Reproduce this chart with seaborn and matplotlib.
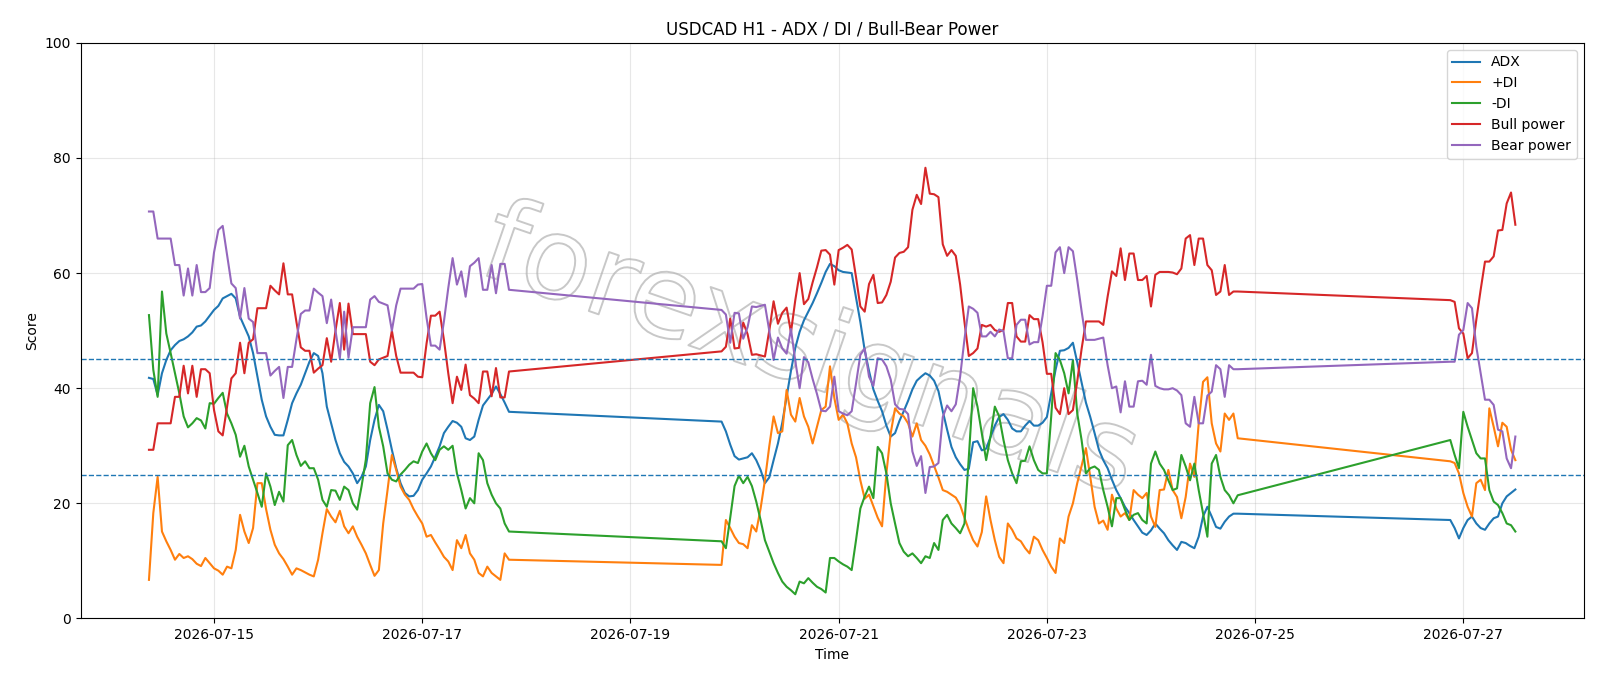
import matplotlib
matplotlib.use("Agg")
import pandas as pd
import seaborn as sns
import matplotlib.pyplot as plt
import matplotlib.dates as mdates
import matplotlib.patheffects as pe

# hourly bars, three trading sessions (weekend gaps are bridged by the line)
sessions = [
    ("2026-07-14 09:00", "2026-07-17 20:00"),
    ("2026-07-19 21:00", "2026-07-24 20:00"),
    ("2026-07-26 21:00", "2026-07-27 12:00"),
]

adx = [
    # session 1
    41.8, 41.6, 38.8, 42.6, 44.9, 46.6, 47.5, 48.2, 48.5, 49.0,
    49.7, 50.7, 50.9, 51.6, 52.6, 53.6, 54.3, 55.6, 56.0, 56.4,
    55.6, 52.4, 50.7, 49.0, 46.1, 42.0, 38.0, 35.1, 33.3, 31.9,
    31.8, 31.8, 34.5, 37.4, 39.1, 40.6, 42.6, 44.6, 46.1, 45.6,
    42.6, 36.8, 33.9, 31.0, 28.7, 27.2, 26.4, 25.2, 23.5, 24.6,
    26.4, 31.0, 34.5, 37.1, 36.0, 32.8, 29.3, 26.1, 23.5, 21.8,
    21.2, 21.3, 22.3, 24.1, 25.2, 26.4, 28.1, 29.9, 32.2, 33.3,
    34.3, 34.0, 33.3, 31.3, 31.0, 31.6, 34.5, 37.0, 38.0, 39.0,
    40.3, 39.0, 37.5, 35.9,
    # session 2
    34.2, 32.5, 30.2, 28.2, 27.6, 27.8, 28.0, 28.7, 27.5, 25.8,
    23.5, 24.5, 27.5, 30.4, 34.0, 38.5, 43.0, 47.0, 49.8, 51.8,
    53.3, 54.8, 56.5, 58.3, 60.2, 61.6, 61.2, 60.5, 60.2,
    60.1, 60.0, 55.8, 51.5, 46.6, 43.0, 39.8, 37.8, 36.0, 33.5,
    31.6, 32.2, 34.3, 36.0, 37.8, 39.8, 41.3, 42.0, 42.6, 42.2,
    41.3, 39.5, 36.0, 32.8, 29.8, 28.0, 26.8, 25.8,
    26.0, 30.6, 30.8, 29.2, 29.5, 31.5, 33.5, 35.0, 35.5, 34.5,
    33.0, 32.5, 32.5, 33.5, 34.3, 33.5, 33.5, 34.0, 35.0, 39.1,
    43.2, 46.5, 46.6, 47.0, 47.9, 44.5, 41.0, 37.5, 35.0, 32.2,
    29.3, 27.5, 26.1, 24.1, 22.3, 20.9, 19.4, 18.3, 17.1, 16.0,
    14.9, 14.5, 15.3, 16.5, 15.6, 14.8, 13.6, 12.7, 11.9, 13.3,
    13.1, 12.6, 12.2, 14.2, 17.7, 19.4, 17.7, 15.9, 15.6, 16.8,
    17.7, 18.2, 18.2,
    # session 3
    17.1, 15.7, 13.9, 15.7, 17.1, 17.7, 16.5, 15.7, 15.4, 16.5,
    17.4, 17.7, 20.0, 21.2, 21.8, 22.4,
]

plus_di = [
    6.7, 18.3, 24.6, 15.1, 13.4, 11.9, 10.2, 11.2, 10.5, 10.8,
    10.3, 9.5, 9.1, 10.5, 9.6, 8.7, 8.3, 7.6, 9.0, 8.7,
    11.9, 18.0, 15.1, 13.1, 15.7, 23.5, 23.5, 19.0, 15.4, 12.8,
    11.3, 10.3, 9.0, 7.6, 8.7, 8.4, 8.0, 7.6, 7.3, 10.2,
    14.8, 19.0, 17.7, 16.7, 18.7, 16.0, 14.8, 16.0, 14.2, 12.8,
    11.3, 9.3, 7.4, 8.4, 16.5, 22.3, 28.4, 25.8, 22.9, 21.5,
    20.6, 19.0, 17.7, 16.5, 14.2, 14.5, 13.2, 12.0, 10.7, 9.9,
    8.4, 13.6, 12.2, 14.5, 11.3, 10.2, 7.9, 7.3, 9.0, 7.9,
    7.3, 6.7, 11.3, 10.2,
    9.3, 17.1, 15.7, 14.2, 13.1, 12.9, 12.2, 16.2, 15.1, 19.1,
    24.0, 29.9, 35.1, 32.2, 32.5, 39.7, 35.4, 34.2, 38.3, 35.1,
    33.3, 30.4, 33.3, 36.2, 36.8, 43.8, 38.3, 34.5, 35.4, 33.9,
    30.4, 28.0, 24.0, 20.8, 21.5, 19.5, 17.5, 16.0, 25.2, 32.2,
    36.5, 35.6, 35.1, 33.9, 31.6, 33.9, 31.0, 30.0, 28.5, 26.5,
    24.5, 22.3, 22.0, 21.5, 21.0, 19.7, 17.5, 15.4,
    13.6, 12.5, 15.0, 21.2, 17.1, 13.6, 10.7, 9.6, 16.5, 15.4,
    13.9, 13.4, 12.2, 11.3, 14.2, 13.6, 11.9, 10.5, 9.0, 7.9,
    13.9, 13.1, 17.7, 20.0, 23.5, 26.5, 29.6, 24.6, 19.4,
    16.5, 17.0, 15.4, 21.5, 19.1, 17.7, 18.3, 17.1, 22.3, 21.5,
    20.9, 21.8, 17.7, 15.9, 22.3, 22.4, 25.8, 22.3, 21.1, 17.4,
    21.1, 26.9, 24.6, 33.9, 41.1, 41.9, 33.9, 30.4, 29.0, 35.6,
    34.5, 35.6, 31.3,
    27.3, 27.0, 25.2, 21.8, 19.4, 17.7, 23.5, 24.1, 22.3, 36.5,
    33.3, 29.9, 34.0, 33.3, 29.3, 27.5,
]

minus_di = [
    52.7, 43.2, 38.5, 56.8, 49.5, 46.1, 42.6, 39.1, 35.1, 33.2,
    33.9, 34.8, 34.4, 33.0, 37.4, 37.3, 38.3, 39.2, 35.6, 33.9,
    31.9, 28.1, 30.0, 26.4, 24.1, 21.8, 19.4, 25.2, 22.9, 19.7,
    22.0, 20.3, 30.1, 31.0, 28.4, 26.5, 27.3, 26.1, 26.1, 24.1,
    20.6, 19.4, 22.3, 22.2, 20.6, 22.9, 22.3, 20.0, 18.9, 22.9,
    27.6, 37.4, 40.2, 33.3, 29.9, 25.2, 24.1, 23.8, 25.0, 25.8,
    26.7, 27.3, 27.0, 29.0, 30.4, 28.7, 27.5, 29.3, 29.9, 29.3,
    30.0, 25.2, 22.3, 19.1, 20.9, 20.0, 28.7, 27.5, 23.5, 21.5,
    20.0, 19.1, 16.5, 15.1,
    13.4, 12.2, 17.5, 23.0, 24.8, 23.5, 24.6, 23.0, 20.3, 17.1,
    13.6, 11.6, 9.6, 7.9, 6.4, 5.5, 4.9, 4.2, 6.4, 6.1,
    7.0, 6.2, 5.5, 5.1, 4.5, 10.5, 10.5, 9.9, 9.4, 9.0, 8.4,
    13.6, 19.1, 21.2, 22.9, 20.9, 29.8, 28.7, 25.2, 20.0, 16.5,
    13.1, 11.6, 10.8, 11.3, 10.5, 9.6, 10.8, 10.5, 13.1, 11.9,
    17.1, 18.0, 16.5, 15.7, 14.8, 16.5, 28.0,
    40.0, 36.8, 32.2, 27.5, 31.6, 36.8, 35.1, 31.0, 27.5, 25.2,
    23.5, 27.3, 27.4, 29.9, 27.5, 25.8, 25.2, 25.2, 35.1, 46.1,
    44.9, 42.6, 39.1, 44.9, 35.6, 31.0, 25.2, 26.1, 26.4,
    25.8, 22.3, 19.4, 16.0, 20.9, 20.9, 18.9, 17.1, 18.0, 18.3,
    17.1, 16.5, 26.9, 29.0, 26.9, 25.8, 24.0, 22.3, 22.6, 28.4,
    26.4, 24.0, 26.9, 22.3, 18.3, 14.2, 26.9, 28.4, 24.6, 22.3,
    21.4, 20.0, 21.4,
    31.0, 28.4, 26.1, 35.9, 33.3, 31.0, 28.7, 27.8, 27.8, 22.3,
    20.3, 19.7, 18.3, 16.5, 16.2, 15.1,
]

bull = [
    29.3, 29.3, 33.9, 33.9, 33.9, 33.9, 38.5, 38.5, 43.9, 39.1,
    43.9, 38.5, 43.3, 43.3, 42.6, 36.2, 32.5, 31.8, 36.8, 41.7,
    42.6, 47.9, 42.6, 47.9, 48.5, 53.9, 53.9, 53.9, 57.8, 57.0,
    56.3, 61.7, 56.3, 56.3, 51.5, 47.1, 46.5, 46.5, 42.7, 43.4,
    44.0, 48.7, 44.6, 50.0, 54.8, 46.7, 54.7, 49.4, 49.4, 49.4,
    49.4, 44.6, 44.0, 45.0, 45.3, 45.6, 50.0, 45.6, 42.7, 42.7,
    42.7, 42.7, 42.0, 41.9, 47.8, 52.6, 52.6, 53.3, 48.4, 42.6,
    37.4, 42.0, 39.7, 44.1, 38.8, 38.2, 37.4, 42.9, 42.9, 38.6,
    43.5, 38.4, 38.4, 42.9,
    46.4, 47.2, 52.1, 46.9, 47.0, 51.4, 49.4, 45.8, 45.9, 45.7,
    45.5, 50.0, 55.1, 51.2, 53.1, 54.0, 49.7, 55.3, 60.0, 54.6,
    55.5, 58.4, 61.0, 63.9, 64.0, 63.2, 58.0, 64.0, 64.4,
    64.9, 64.1, 59.3, 54.2, 53.3, 58.1, 59.7, 54.8, 54.9, 56.2,
    58.5, 62.7, 63.5, 63.7, 64.5, 71.0, 73.6, 72.0, 78.3, 73.8,
    73.7, 73.2, 65.0, 63.0, 64.0, 63.0, 58.0, 51.5,
    45.6, 46.1, 46.9, 51.0,
    50.7, 51.0, 50.1, 49.8, 50.1, 54.8, 54.8, 49.0, 48.1, 48.1,
    52.7, 52.0, 52.0, 48.0, 42.5, 42.5, 36.6, 35.5, 40.0, 35.5,
    36.2, 41.2, 46.8, 51.6, 51.6, 51.6,
    51.6, 51.0, 55.9, 60.3, 59.5, 64.3, 58.8, 63.4, 63.4, 58.8,
    58.8, 59.5, 54.2, 59.7, 60.2, 60.2, 60.2, 60.1, 59.8, 60.8,
    66.0, 66.6, 61.4, 66.0, 66.0, 61.4, 60.5, 56.2, 56.8, 61.4,
    56.2, 56.8, 56.8,
    55.3, 55.0, 50.4, 49.5, 45.2, 46.1, 51.9, 57.1, 62.0, 62.0,
    62.9, 67.4, 67.5, 72.1, 74.0, 68.4,
]

bear = [
    70.7, 70.7, 66.0, 66.0, 66.0, 66.0, 61.4, 61.4, 56.1, 60.8,
    56.1, 61.4, 56.7, 56.7, 57.4, 63.6, 67.5, 68.2, 63.2, 58.2,
    57.4, 52.1, 57.4, 52.1, 51.5, 46.1, 46.1, 46.1, 42.2, 43.0,
    43.7, 38.3, 43.7, 43.7, 48.5, 52.9, 53.5, 53.5, 57.3, 56.6,
    56.0, 51.3, 55.4, 50.0, 45.2, 53.3, 45.3, 50.6, 50.6, 50.6,
    50.6, 55.4, 56.0, 55.0, 54.7, 54.4, 50.0, 54.4, 57.3, 57.3,
    57.3, 57.3, 58.0, 58.1, 52.2, 47.4, 47.4, 46.7, 51.6, 57.4,
    62.6, 58.0, 60.3, 55.9, 61.2, 61.8, 62.6, 57.1, 57.1, 61.4,
    56.5, 61.6, 61.6, 57.1,
    53.6, 52.8, 47.9, 53.1, 53.0, 48.6, 50.6, 54.2, 54.1, 54.3,
    54.5, 50.0, 44.9, 48.8, 46.9, 46.0, 50.3, 44.7, 40.0, 45.4,
    44.5, 41.6, 39.0, 36.1, 36.0, 36.8, 42.0, 36.0, 35.6,
    35.3, 36.0, 40.8, 45.8, 46.9, 42.0, 40.4, 45.2, 45.0, 43.8,
    41.5, 37.2, 36.4, 36.3, 35.5, 29.0, 26.5, 28.2, 21.8, 26.3,
    26.4, 27.0, 35.0, 37.0, 36.0, 37.2, 42.0, 48.5,
    54.2, 53.8, 53.1, 49.0,
    49.0, 49.8, 49.0, 50.2, 49.9, 45.2, 45.2, 51.0, 51.9, 51.9,
    47.6, 48.0, 48.0, 52.5, 57.8, 57.8, 63.6, 64.5, 60.0, 64.5,
    63.8, 58.8, 53.4, 48.4, 48.4, 48.4,
    48.6, 48.8, 44.0, 40.0, 40.3, 35.8, 41.2, 36.8, 36.8, 41.2,
    41.3, 40.6, 45.8, 40.4, 40.0, 39.8, 39.8, 40.0, 39.6, 38.8,
    33.9, 33.3, 38.5, 33.9, 33.9, 38.7, 39.4, 44.0, 43.3, 38.5,
    44.0, 43.3, 43.3,
    44.6, 44.6, 49.3, 50.1, 54.8, 53.9, 47.2, 42.6, 38.0, 38.0,
    37.1, 32.8, 32.5, 27.8, 26.1, 31.6,
]

adx_levels = [25, 45]

times = pd.date_range(*sessions[0], freq="h")
for start, end in sessions[1:]:
    times = times.append(pd.date_range(start, end, freq="h"))

df = pd.DataFrame(
    {"ADX": adx, "+DI": plus_di, "-DI": minus_di,
     "Bull power": bull, "Bear power": bear},
    index=times,
)

fig, ax = plt.subplots(figsize=(16, 6.86), dpi=100)
sns.lineplot(
    data=df,
    ax=ax,
    dashes=False,
    palette=["tab:blue", "tab:orange", "tab:green", "tab:red", "tab:purple"],
    linewidth=1.5,
)
for lvl in adx_levels:
    ax.axhline(lvl, linestyle="--", linewidth=1, color="tab:blue")

ax.set_ylim(0, 100)
ax.set_title("USDCAD H1 - ADX / DI / Bull-Bear Power")
ax.set_xlabel("Time")
ax.set_ylabel("Score")
ax.grid(True, alpha=0.3)
ax.xaxis.set_major_locator(mdates.DayLocator(bymonthday=range(1, 32, 2)))
ax.xaxis.set_major_formatter(mdates.DateFormatter("%Y-%m-%d"))
ax.legend(loc="upper right")

# outlined watermark across the middle
ax.text(0.485, 0.46, "forexsignals", transform=ax.transAxes,
        fontsize=82, rotation=-19, ha="center", va="center",
        color="none", zorder=0.5,
        path_effects=[pe.withStroke(linewidth=1.4, foreground="#c8c8c8")])

fig.subplots_adjust(left=0.0504, right=0.9898, top=0.9375, bottom=0.0985)
fig.savefig("out.png", dpi=100)
plt.close(fig)
